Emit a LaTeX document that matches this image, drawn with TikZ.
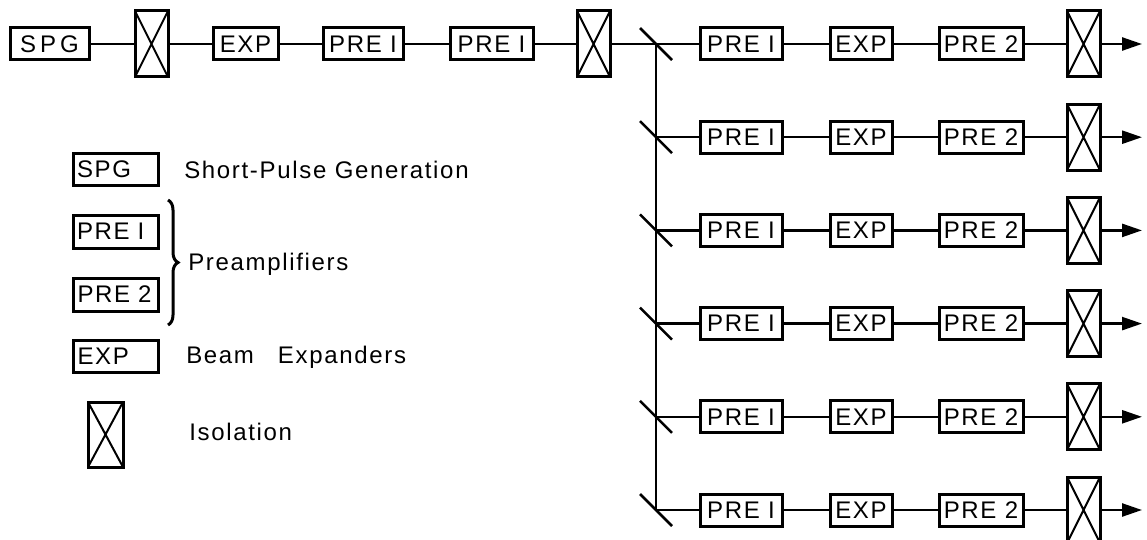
\documentclass[tikz,border=0pt]{standalone}
\usepackage{fontspec}
\setmainfont{Liberation Sans}[LetterSpace=7]
\usetikzlibrary{arrows.meta, positioning, decorations.pathreplacing}

\begin{document}
\begin{tikzpicture}[x=1pt,y=-1pt,line width=2.5pt,>={Triangle[length=20pt,width=13pt]},
      every node/.style={font=\fontsize{24}{28}\selectfont},
      blk/.style={draw,line width=3pt,minimum height=32pt,inner sep=2pt},
      key/.style={blk,text width=77pt,align=left,inner sep=4pt},
      iso/.style={draw,line width=3pt,minimum width=33pt,minimum height=66pt,inner sep=0pt,
        path picture={\draw[line width=2pt]
          (path picture bounding box.north west) -- (path picture bounding box.south east)
          (path picture bounding box.north east) -- (path picture bounding box.south west);}},
      txt/.style={anchor=west,inner sep=0pt}]
      \useasboundingbox (0,0) rectangle (1147,540);
      % main line
      \node[blk,minimum width=79pt] (spg) at (49.5,44) {S\,P\,G};
      \node[iso] (iso1) at (151.5,44) {};
      \node[blk,minimum width=65pt] (exp0) at (245.5,44) {EXP};
      \node[blk,minimum width=80pt] (preA) at (363,44) {PRE I};
      \node[blk,minimum width=83pt] (preB) at (491.5,44) {PRE I};
      \node[iso] (iso2) at (593.5,44) {};
      \draw (spg) -- (iso1) -- (exp0) -- (preA) -- (preB) -- (iso2);
      % branches
      \foreach \r in {1,...,6} {
        \pgfmathsetmacro\yy{44+(\r-1)*93.2}
        \coordinate (m\r) at (656,\yy);
        \coordinate (out\r) at (1142,\yy);
        \node[blk,minimum width=82pt] (pa\r) at (741,\yy) {PRE I};
        \node[blk,minimum width=62pt] (ex\r) at (861,\yy) {EXP};
        \node[blk,minimum width=84pt] (pb\r) at (981,\yy) {PRE 2};
        \node[iso] (is\r) at (1083.5,\yy) {};
        \draw (m\r) ++(-16,-16) -- ++(32,32);
        \draw (m\r) -- (pa\r) -- (ex\r) -- (pb\r) -- (is\r);
        \draw[->] (is\r) -- (out\r);
      }
      \draw (iso2) -- (pa1);
      \draw (m1) -- (m6);
      % legend
      \node[key,minimum height=31pt] (kspg) at (115.5,169.5) {SPG};
      \node[txt] (tspg) at (183,170) {Short-Pulse Generation};
      \node[key,minimum height=33pt] (kpa) at (115.5,231.5) {PRE I};
      \node[key,minimum height=33pt] (kpb) at (116,294.5) {PRE 2};
      \draw[line width=3pt,decorate,decoration={brace,amplitude=10pt}] (168,200) -- (168,325);
      \node[txt] (tpre) at (187,264) {Preamplifiers};
      \node[key,minimum height=32pt] (kexp) at (116,356) {EXP};
      \node[txt] (texp) at (185,357) {Beam\quad Expanders};
      \node[iso,minimum width=35pt,minimum height=65pt] (kiso) at (105.5,434.5) {};
      \node[txt] (tiso) at (188,432) {Isolation};
    \end{tikzpicture}
\end{document}
